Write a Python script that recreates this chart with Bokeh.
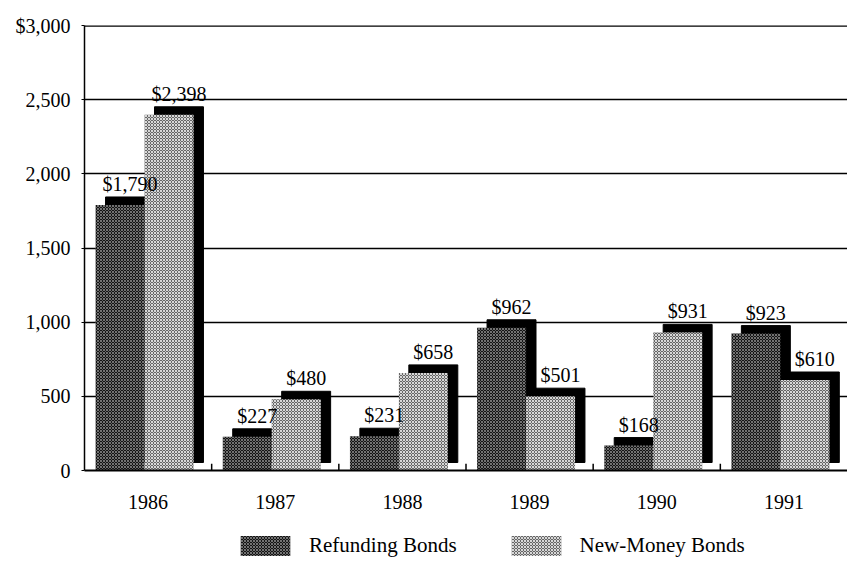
from bokeh.plotting import figure
from bokeh.layouts import column
from bokeh.models import (ColumnDataSource, Range1d, FixedTicker, Legend, LegendItem, Span)
from bokeh.core.properties import value
from bokeh.embed import file_html
from bokeh.resources import INLINE

years = ["1986", "1987", "1988", "1989", "1990", "1991"]
refunding = [1790, 227, 231, 962, 168, 923]
new_money = [2398, 480, 658, 501, 931, 610]
y_ticks = [0, 500, 1000, 1500, 2000, 2500, 3000]
y_tick_labels = ["0", "500", "1,000", "1,500", "2,000", "2,500", "$3,000"]
series_names = ["Refunding Bonds", "New-Money Bonds"]

FONT = "Liberation Serif"
n = len(years)
bw = 0.385
off_r = 0.28
off_n = 0.665
sdx = 0.078   # shadow offset (category units)
sdy = 54      # shadow offset (value units)

REF_STYLE = dict(fill_color="#141414", line_color=None, hatch_pattern="x", hatch_color="white",
                 hatch_scale=3, hatch_alpha=0.4, hatch_weight=1)
NM_STYLE = dict(fill_color="#666666", line_color=None, hatch_pattern="x", hatch_color="white",
                hatch_scale=3, hatch_alpha=0.75, hatch_weight=1)

p = figure(width=847, height=512, output_backend="svg", toolbar_location=None,
           x_range=Range1d(0, n), y_range=Range1d(0, 3000),
           min_border_left=84, min_border_right=0, min_border_top=25, min_border_bottom=42,
           background_fill_color="white", border_fill_color="white")
p.outline_line_color = None

xs = list(range(n))
xr = [i + off_r for i in xs]
xn = [i + off_n for i in xs]

src = ColumnDataSource(dict(
    xr=xr, xn=xn, r=refunding, nm=new_money,
    xrs=[x + sdx for x in xr], xns=[x + sdx for x in xn],
    rs=[v + sdy for v in refunding], ns=[v + sdy for v in new_money],
    rl=["$" + format(v, ",") for v in refunding],
    nl=["$" + format(v, ",") for v in new_money],
))

# shadows
p.vbar(x="xrs", top="rs", bottom=sdy, width=bw, source=src, fill_color="black", line_color="black")
p.vbar(x="xns", top="ns", bottom=sdy, width=bw, source=src, fill_color="black", line_color="black")

p.vbar(x="xr", top="r", width=bw, source=src, **REF_STYLE)
p.vbar(x="xn", top="nm", width=bw, source=src, **NM_STYLE)

# value labels
p.text(x="xrs", y="rs", text="rl", source=src, text_font=value(FONT), text_font_size="20px",
       text_align="center", text_baseline="bottom", y_offset=-2, text_color="black")
p.text(x="xns", y="ns", text="nl", source=src, text_font=value(FONT), text_font_size="20px",
       text_align="center", text_baseline="bottom", y_offset=-2, text_color="black")

# category boundary ticks
bounds = list(range(1, n))
p.segment(x0=bounds, x1=bounds, y0=[0] * len(bounds), y1=[45] * len(bounds),
          line_color="black", line_width=1.5)

# grid
p.xgrid.grid_line_color = None
p.ygrid.ticker = FixedTicker(ticks=y_ticks)
p.ygrid.grid_line_color = "black"
p.ygrid.grid_line_width = 1.5
p.ygrid.level = "underlay"
p.add_layout(Span(location=3000, dimension="width", line_color="black", line_width=2.5))

# axes
p.yaxis.ticker = FixedTicker(ticks=y_ticks)
p.yaxis.major_label_overrides = {t: l for t, l in zip(y_ticks, y_tick_labels)}
p.yaxis.axis_line_color = "black"
p.yaxis.axis_line_width = 1.5
p.yaxis.major_tick_in = 0
p.yaxis.major_tick_out = 3
p.yaxis.minor_tick_line_color = None
p.yaxis.major_label_standoff = 11
p.yaxis.major_label_text_font = FONT
p.yaxis.major_label_text_font_size = "20px"
p.yaxis.major_label_text_color = "black"

centers = [i + 0.5 for i in xs]
p.xaxis.ticker = FixedTicker(ticks=centers)
p.xaxis.major_label_overrides = {c: y for c, y in zip(centers, years)}
p.xaxis.axis_line_color = "black"
p.xaxis.axis_line_width = 2
p.xaxis.major_tick_line_color = None
p.xaxis.minor_tick_line_color = None
p.xaxis.major_label_standoff = 18
p.xaxis.major_label_text_font = FONT
p.xaxis.major_label_text_font_size = "20px"
p.xaxis.major_label_text_color = "black"

# legend strip (placeholder glyphs sit outside the visible range)
lf = figure(width=847, height=46, output_backend="svg", toolbar_location=None,
            x_range=Range1d(0, 1), y_range=Range1d(0, 1), min_border=0,
            background_fill_color="white", border_fill_color="white")
lf.outline_line_color = None
lf.axis.visible = False
lf.grid.visible = False
d1 = lf.vbar(x=[5], top=[5], bottom=[4], width=0.1, **REF_STYLE)
d2 = lf.vbar(x=[5], top=[5], bottom=[4], width=0.1, **NM_STYLE)
legend = Legend(items=[LegendItem(label=series_names[0], renderers=[d1]),
                       LegendItem(label=series_names[1], renderers=[d2])],
                orientation="horizontal", location=(150, 0),
                glyph_width=62, glyph_height=25, label_standoff=13, spacing=48,
                label_text_font=FONT, label_text_font_size="21px", label_height=20,
                label_text_color="black",
                border_line_color=None, background_fill_alpha=0, padding=0, margin=0)
lf.add_layout(legend, "center")

layout = column(p, lf, spacing=0)
open("out.html", "w").write(file_html(layout, INLINE))
